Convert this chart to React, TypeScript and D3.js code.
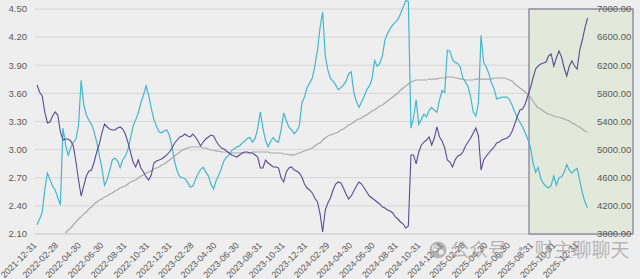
import React from "react";
import * as d3 from "d3";

// Weekly observations starting 2021-12-31
const START_DATE = "2021-12-31";

// Cyan series (left axis)
const cyanValues: number[] = [
  2.20, 2.26, 2.33, 2.57, 2.75, 2.68, 2.61, 2.57, 2.49, 2.41,
  3.23, 3.05, 2.94, 3.02, 3.08, 3.11, 3.26, 3.74, 3.48, 3.37,
  3.31, 3.27, 3.19, 3.08, 2.94, 2.80, 2.62, 2.68, 2.78, 2.89,
  2.91, 2.88, 2.81, 2.89, 2.93, 3.00, 3.12, 3.25, 3.32, 3.39,
  3.50, 3.58, 3.68, 3.58, 3.44, 3.32, 3.25, 3.19, 3.18, 3.20,
  3.21, 3.15, 3.03, 2.87, 2.77, 2.71, 2.70, 2.69, 2.65, 2.60,
  2.61, 2.68, 2.74, 2.79, 2.81, 2.76, 2.72, 2.63, 2.58, 2.67,
  2.73, 2.80, 2.88, 2.92, 2.95, 2.99, 3.01, 3.03, 3.04, 3.07,
  3.09, 3.12, 3.13, 3.08, 3.12, 3.23, 3.40, 3.23, 3.10, 3.03,
  3.09, 3.13, 3.09, 3.08, 3.21, 3.39, 3.31, 3.24, 3.21, 3.17,
  3.20, 3.25, 3.50, 3.56, 3.66, 3.71, 3.76, 3.89, 4.06, 4.30,
  4.47, 4.00, 3.85, 3.76, 3.73, 3.69, 3.64, 3.66, 3.69, 3.73,
  3.81, 3.83, 3.61, 3.51, 3.45, 3.51, 3.57, 3.64, 3.68, 3.75,
  3.95, 3.89, 3.92, 4.00, 4.17, 4.24, 4.29, 4.33, 4.36, 4.39,
  4.45, 4.52, 4.59, 4.58, 3.23, 3.34, 3.53, 3.27, 3.32, 3.38,
  3.35, 3.42, 3.45, 3.42, 3.40, 3.53, 3.63, 3.61, 4.06, 4.05,
  3.96, 3.93, 3.92, 3.88, 3.76, 3.72, 3.67, 3.56, 3.40, 3.36,
  3.50, 4.22, 3.93, 3.88, 3.81, 3.71, 3.65, 3.54, 3.55, 3.56,
  3.56, 3.56, 3.53, 3.47, 3.40, 3.34, 3.29, 3.24, 3.18, 3.11,
  3.03, 2.86, 2.76, 2.81, 2.69, 2.64, 2.61, 2.59, 2.62, 2.72,
  2.62, 2.70, 2.71, 2.76, 2.84, 2.78, 2.75, 2.78, 2.80, 2.67,
  2.54, 2.44, 2.38,
];

// Purple series (right axis)
const purpleValues: number[] = [
  5919, 5820, 5763, 5535, 5379, 5393, 5478, 5535, 5492, 5251,
  5137, 5151, 5151, 5123, 5052, 4824, 4568, 4340, 4483, 4625,
  4696, 4710, 4824, 4966, 5080, 5237, 5364, 5322, 5293, 5279,
  5279, 5308, 5322, 5293, 5222, 5108, 4966, 4824, 4753, 4852,
  4739, 4682, 4611, 4568, 4639, 4810, 4838, 4852, 4867, 4895,
  4924, 4966, 5023, 5094, 5137, 5180, 5194, 5222, 5194, 5180,
  5222, 5180, 5123, 5052, 5108, 5151, 5180, 5208, 5194, 5123,
  5066, 5023, 5009, 4980, 4952, 4924, 4909, 4895, 4924, 4952,
  4966, 4966, 4952, 4952, 4924, 4895, 4739, 4739, 4852, 4810,
  4781, 4753, 4753, 4739, 4597, 4540, 4682, 4739, 4753, 4710,
  4696, 4668, 4611, 4511, 4454, 4426, 4383, 4312, 4255, 4085,
  3829, 4141, 4241, 4312, 4426, 4511, 4540, 4525, 4454, 4369,
  4298, 4340, 4412, 4483, 4540, 4511, 4454, 4397, 4340, 4312,
  4284, 4255, 4227, 4184, 4170, 4141, 4127, 4099, 4042, 4013,
  3971, 3942, 3885, 3914, 4924, 4924, 4796, 4966, 5066, 5108,
  5137, 5180, 5066, 5165, 5322, 5180, 5123, 5023, 4852, 4824,
  4753, 4852, 4909, 4924, 4966, 5052, 5108, 5165, 5237, 5308,
  5194, 4710, 4852, 4909, 4952, 4995, 5037, 5094, 5108, 5137,
  5151, 5165, 5194, 5265, 5364, 5478, 5564, 5578, 5649, 5763,
  5876, 6019, 6147, 6189, 6218, 6232, 6246, 6332, 6360, 6189,
  6303, 6403, 6317, 6161, 6047, 6189, 6260, 6189, 6147, 6417,
  6559, 6730, 6872,
];

// Gray series (right axis), starts later
const grayValues: (number | null)[] = [
  null, null, null, null, null, null, null, null, null, null,
  null, 3814, 3857, 3885, 3928, 3971, 4013, 4042, 4085, 4113,
  4156, 4184, 4227, 4255, 4284, 4298, 4326, 4340, 4369, 4383,
  4412, 4426, 4454, 4469, 4483, 4511, 4540, 4554, 4568, 4597,
  4625, 4639, 4668, 4682, 4696, 4725, 4739, 4753, 4781, 4796,
  4824, 4852, 4881, 4909, 4938, 4966, 4995, 5009, 5023, 5037,
  5037, 5037, 5037, 5037, 5023, 5023, 5009, 4995, 4995, 4980,
  4980, 4966, 4966, 4966, 4952, 4952, 4952, 4952, 4952, 4952,
  4952, 4952, 4952, 4966, 4966, 4966, 4966, 4966, 4966, 4966,
  4952, 4952, 4952, 4952, 4952, 4938, 4938, 4924, 4924, 4924,
  4938, 4952, 4966, 4980, 4995, 5009, 5023, 5052, 5080, 5094,
  5137, 5165, 5194, 5208, 5222, 5237, 5251, 5279, 5293, 5322,
  5350, 5364, 5393, 5421, 5436, 5450, 5478, 5492, 5521, 5549,
  5564, 5592, 5620, 5635, 5663, 5692, 5720, 5748, 5777, 5805,
  5848, 5876, 5905, 5933, 5962, 5976, 5990, 5990, 5990, 5990,
  5990, 6004, 6004, 6004, 6004, 6019, 6019, 6019, 6033, 6033,
  6033, 6019, 6019, 6004, 6004, 5990, 5990, 5990, 5990, 6004,
  6004, 6004, 6004, 6004, 6004, 6004, 6019, 6019, 6019, 6019,
  6019, 6004, 5990, 5976, 5933, 5905, 5876, 5848, 5820, 5791,
  5748, 5692, 5635, 5592, 5578, 5549, 5521, 5507, 5492, 5478,
  5464, 5464, 5450, 5436, 5421, 5407, 5379, 5364, 5336, 5322,
  5293, 5265, 5251,
];

const xTickLabels: string[] = [
  "2021-12-31", "2022-02-28", "2022-04-30", "2022-06-30", "2022-08-31",
  "2022-10-31", "2022-12-31", "2023-02-28", "2023-04-30", "2023-06-30",
  "2023-08-31", "2023-10-31", "2023-12-31", "2024-02-29", "2024-04-30",
  "2024-06-30", "2024-08-31", "2024-10-31", "2024-12-31", "2025-02-28",
  "2025-04-30", "2025-06-30", "2025-08-31", "2025-10-31", "2025-12-31",
];

const leftTicks: number[] = [2.1, 2.4, 2.7, 3.0, 3.3, 3.6, 3.9, 4.2, 4.5];
const rightTicks: number[] = [3800, 4200, 4600, 5000, 5400, 5800, 6200, 6600, 7000];

const W = 640;
const H = 279;

export default function App() {
  const parse = d3.timeParse("%Y-%m-%d");
  const start = parse(START_DATE) as Date;
  const dates = cyanValues.map((_, i) => d3.timeDay.offset(start, 7 * i));

  const x = d3
    .scaleTime()
    .domain([parse("2021-12-31") as Date, parse("2025-12-31") as Date])
    .range([37, 579]);
  const yL = d3.scaleLinear().domain([2.1, 4.5]).range([234, 9]);
  const yR = d3.scaleLinear().domain([3800, 7000]).range([234, 9]);

  const lineL = d3
    .line<number>()
    .x((_, i) => x(dates[i]))
    .y((d) => yL(d));
  const lineR = d3
    .line<number | null>()
    .defined((d) => d != null)
    .x((_, i) => x(dates[i]))
    .y((d) => yR(d as number));

  const font = "'Liberation Sans', Arial, sans-serif";
  const textColor = "#5a5a5a";

  return (
    <svg
      width={W}
      height={H}
      style={{ position: "absolute", left: 0, top: 0, display: "block" }}
    >
      <rect x={0} y={0} width={W} height={H} fill="#eeeeee" />

      {/* grid */}
      {leftTicks.map((t) => (
        <line
          key={"g" + t}
          x1={35}
          x2={596}
          y1={yL(t)}
          y2={yL(t)}
          stroke={t === 2.1 ? "#c4c4c4" : "#d6d6d6"}
          strokeWidth={1}
        />
      ))}

      {/* highlight box */}
      <rect
        x={529}
        y={yR(7000)}
        width={104}
        height={yR(3800) - yR(7000)}
        fill="#e2e9da"
        stroke="#7e7794"
        strokeWidth={1.2}
      />

      {/* left axis labels */}
      {leftTicks.map((t) => (
        <text
          key={"l" + t}
          x={27}
          y={yL(t)}
          dy="0.35em"
          textAnchor="end"
          fontSize={9.5}
          fontFamily={font}
          fill={textColor}
        >
          {t.toFixed(2)}
        </text>
      ))}

      {/* right axis labels */}
      {rightTicks.map((t) => (
        <text
          key={"r" + t}
          x={597}
          y={yR(t)}
          dy="0.35em"
          textAnchor="start"
          fontSize={9.5}
          fontFamily={font}
          fill={textColor}
        >
          {t.toFixed(2)}
        </text>
      ))}

      {/* x labels */}
      {xTickLabels.map((s) => {
        const px = x(parse(s) as Date);
        return (
          <text
            key={s}
            transform={`translate(${px},246) rotate(-45)`}
            textAnchor="end"
            fontSize={9}
            fontFamily={font}
            fill={textColor}
          >
            {s}
          </text>
        );
      })}

      {/* series */}
      <path
        d={lineR(grayValues) || ""}
        fill="none"
        stroke="#a9a9a9"
        strokeWidth={1.2}
      />
      <path
        d={lineL(cyanValues) || ""}
        fill="none"
        stroke="#42b7d2"
        strokeWidth={1.2}
      />
      <path
        d={lineR(purpleValues) || ""}
        fill="none"
        stroke="#5b4b95"
        strokeWidth={1.1}
      />

      {/* watermark */}
      <g opacity={0.55}>
        <circle cx={438} cy={250} r={8.5} fill="#8a8a8a" />
        <circle cx={435} cy={248} r={3} fill="#eeeeee" />
        <circle cx={441} cy={252} r={2.5} fill="#eeeeee" />
        <text
          x={450}
          y={257}
          fontSize={19}
          fontFamily="'Noto Sans CJK SC', sans-serif"
          fill="#8a8a8a"
        >
          公众号 · 财主聊聊天
        </text>
      </g>
    </svg>
  );
}
